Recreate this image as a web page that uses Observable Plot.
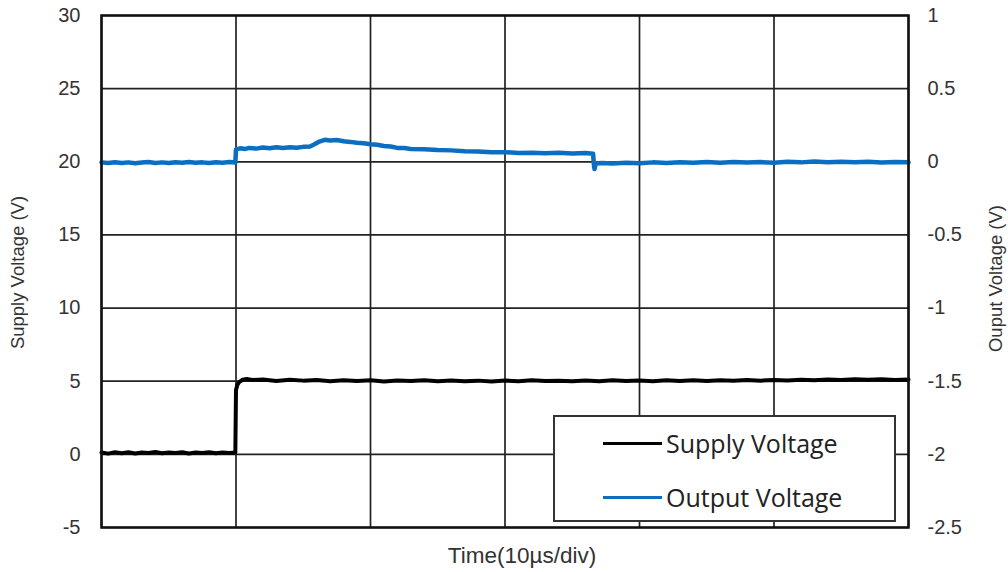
<!DOCTYPE html>
<html>
<head>
<meta charset="utf-8">
<script src="https://cdn.jsdelivr.net/npm/d3@7"></script>
<script src="https://cdn.jsdelivr.net/npm/@observablehq/plot@0.6"></script>
<style>
  body { margin: 0; background: #fff; }
  #wrap { position: relative; width: 1008px; height: 572px; }
  #legend { position: absolute; left: 553px; top: 415px; width: 339px; height: 103px;
            border: 2px solid #333; background: #fff; box-sizing: content-box;
            font-family: "Open Sans", Lato, sans-serif; font-size: 25px; color: #222; }
  .item { position: absolute; left: 48px; display: flex; align-items: center; height: 30px; }
  .swatch { width: 59px; height: 0; border-top: 3px solid; margin-right: 4px; }
</style>
</head>
<body>
<div id="wrap">
  <div id="chart"></div>
  <div id="legend"></div>
</div>
<script>
// Time axis in divisions (10 µs/div)
const xDivisions = [0, 1, 2, 3, 4, 5, 6];
const leftTicks = [30, 25, 20, 15, 10, 5, 0, -5];
const seriesNames = ["Supply Voltage", "Output Voltage"];
const seriesColors = ["#000000", "#0a6fc2"];

// Supply voltage (V), left axis
const supplyT = [0.00,0.05,0.10,0.15,0.20,0.25,0.30,0.35,0.40,0.45,0.50,0.55,0.60,0.65,0.70,0.75,0.80,0.85,0.90,0.95,0.995,
  1.00,1.01,1.025,1.05,1.08,1.12,1.2,1.3,1.4,1.5,1.6,1.7,1.8,1.9,2.0,2.1,2.2,2.3,2.4,2.5,2.6,2.7,2.8,2.9,3.0,
  3.1,3.2,3.3,3.4,3.5,3.6,3.7,3.8,3.9,4.0,4.1,4.2,4.3,4.4,4.5,4.6,4.7,4.8,4.9,5.0,5.1,5.2,5.3,5.4,5.5,5.6,5.7,5.8,5.9,6.0];
const supplyV = [0.12,0.05,0.15,0.08,0.14,0.06,0.12,0.09,0.16,0.07,0.13,0.10,0.15,0.06,0.12,0.09,0.14,0.08,0.13,0.10,0.12,
  4.40,4.75,4.95,5.10,5.15,5.08,5.12,5.02,5.10,5.04,5.08,5.00,5.07,5.02,5.06,4.98,5.05,5.01,5.06,4.99,5.05,5.00,5.04,4.98,5.05,
  5.00,5.06,5.01,5.04,4.99,5.05,5.00,5.06,5.02,5.05,5.00,5.06,5.02,5.07,5.01,5.06,5.03,5.08,5.04,5.09,5.05,5.10,5.06,5.12,5.08,5.14,5.10,5.14,5.09,5.12];

// Output voltage (V), right axis
const outputT = [0.00,0.05,0.10,0.15,0.20,0.25,0.30,0.35,0.40,0.45,0.50,0.55,0.60,0.65,0.70,0.75,0.80,0.85,0.90,0.95,0.995,
  1.00,1.03,1.07,1.10,1.15,1.20,1.25,1.30,1.35,1.40,1.45,1.50,1.55,1.58,1.62,1.66,1.70,1.75,1.80,1.85,1.90,1.95,2.00,2.05,2.10,2.15,2.20,2.25,2.30,
  2.40,2.50,2.60,2.70,2.80,2.90,3.00,3.10,3.20,3.30,3.40,3.50,3.60,3.655,3.66,3.665,3.675,3.72,3.80,3.90,4.00,4.10,4.20,4.30,4.40,4.50,
  4.60,4.70,4.80,4.90,5.00,5.10,5.20,5.30,5.40,5.50,5.60,5.70,5.80,5.90,6.00];
const outputV = [-0.004,-0.008,-0.003,-0.009,-0.004,-0.010,-0.005,-0.002,-0.008,-0.004,-0.009,-0.003,-0.007,-0.002,-0.006,-0.004,-0.009,-0.003,-0.006,-0.002,-0.005,
  0.085,0.092,0.088,0.095,0.090,0.097,0.092,0.099,0.094,0.100,0.096,0.102,0.105,0.118,0.138,0.150,0.146,0.149,0.140,0.136,0.130,0.127,0.120,0.116,0.108,0.104,0.095,0.094,0.088,
  0.086,0.080,0.078,0.072,0.071,0.065,0.066,0.060,0.062,0.058,0.061,0.056,0.060,0.055,-0.010,-0.050,-0.012,-0.008,-0.012,-0.006,-0.010,-0.004,-0.009,-0.003,-0.007,-0.002,
  -0.006,-0.001,-0.005,-0.002,-0.006,0.001,-0.004,0.002,-0.003,0.001,-0.004,0.000,-0.005,-0.001,-0.004];

const supply = supplyT.map((t, i) => ({t, v: supplyV[i]}));
const output = outputT.map((t, i) => ({t, v: outputV[i]}));
// right axis: value = (left - 20) / 10
const toLeft = v => v * 10 + 20;

const chart = Plot.plot({
  width: 1008, height: 572,
  marginLeft: 101, marginRight: 100, marginTop: 15, marginBottom: 45,
  x: {domain: [0, 6], axis: null},
  y: {domain: [-5, 30], axis: null},
  style: {fontFamily: "'Liberation Sans', Arial, sans-serif", fontSize: "20px", color: "#333", background: "#fff"},
  marks: [
    Plot.gridX(xDivisions, {stroke: "#222", strokeOpacity: 1, strokeWidth: 1.7}),
    Plot.gridY(leftTicks, {stroke: "#222", strokeOpacity: 1, strokeWidth: 1.7}),
    Plot.line(supply, {x: "t", y: "v", stroke: seriesColors[0], strokeWidth: 4}),
    Plot.line(output, {x: "t", y: d => toLeft(d.v), stroke: seriesColors[1], strokeWidth: 4.5}),
    Plot.frame({stroke: "#111", strokeWidth: 2.5}),
    Plot.axisY(leftTicks, {anchor: "left", tickSize: 0, tickPadding: 21, label: null, tickFormat: d => String(d), fontSize: 20}),
    Plot.axisY(leftTicks, {anchor: "right", tickSize: 0, tickPadding: 19, label: null, tickFormat: d => String((d - 20) / 10), fontSize: 20}),
    Plot.text(["Supply Voltage (V)"], {frameAnchor: "left", textAnchor: "middle", dx: -83, dy: 1, rotate: -90, fontSize: 18.5, fill: "#333"}),
    Plot.text(["Ouput Voltage (V)"], {frameAnchor: "right", textAnchor: "middle", dx: 88, dy: 7, rotate: -90, fontSize: 18.5, fill: "#333"}),
    Plot.text(["Time(10µs/div)"], {frameAnchor: "bottom", textAnchor: "middle", dx: 17, dy: 35, fontSize: 22.5, fill: "#333"})
  ]
});
document.getElementById("chart").appendChild(chart);

const legend = document.getElementById("legend");
seriesNames.forEach((name, i) => {
  const item = document.createElement("div");
  item.className = "item";
  item.style.top = (i === 0 ? 11 : 65) + "px";
  const sw = document.createElement("div");
  sw.className = "swatch";
  sw.style.borderTopColor = seriesColors[i];
  const label = document.createElement("span");
  label.textContent = name;
  item.appendChild(sw);
  item.appendChild(label);
  legend.appendChild(item);
});
</script>
</body>
</html>
